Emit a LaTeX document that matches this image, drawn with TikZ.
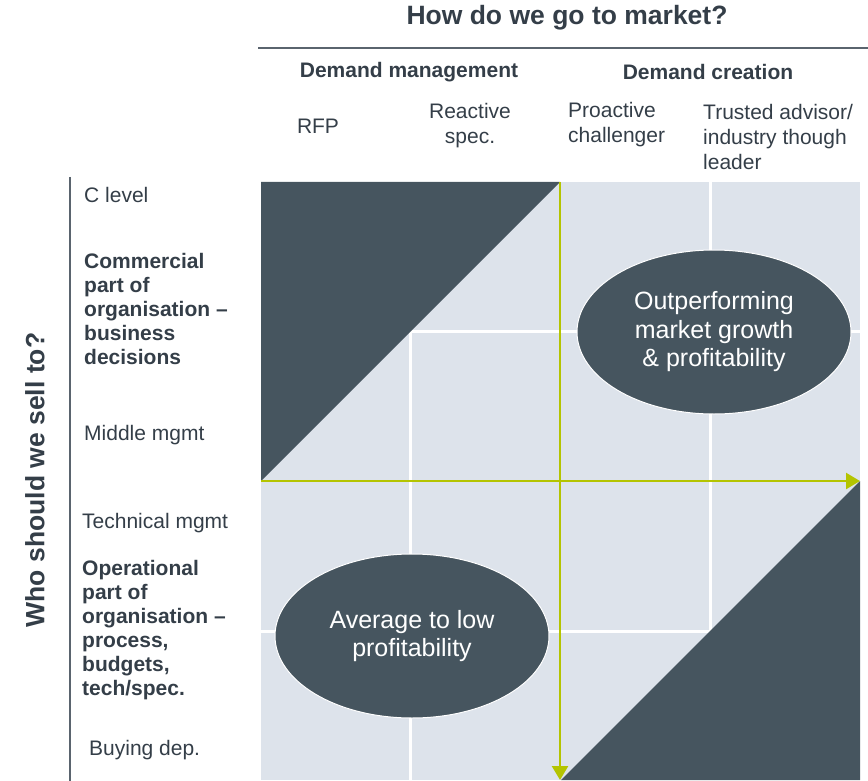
\documentclass[tikz,border=0pt]{standalone}
\usepackage{fontspec}
\setmainfont{Liberation Sans}
\usepackage{tikz}
\usetikzlibrary{arrows.meta,shapes.geometric}
\definecolor{slate}{RGB}{70,85,95}
\definecolor{paleblue}{RGB}{221,227,235}
\definecolor{lime}{RGB}{180,196,0}
\definecolor{inkgray}{RGB}{52,62,72}
\definecolor{rulegray}{RGB}{90,100,110}

\begin{document}
\begin{tikzpicture}[x=1pt, y=-1pt,
	lbl/.style={inkgray, inner sep=0pt, align=left, font=\fontsize{21}{24}\selectfont},
	boldlbl/.style={lbl, font=\fontsize{21}{24}\selectfont\bfseries},
	head/.style={inkgray, inner sep=0pt, font=\fontsize{26.5}{30}\selectfont\bfseries},
	axis/.style={lime, line width=2.5pt, -{Triangle[length=14pt, width=16pt]}},
	blob/.style={ellipse, fill=slate, draw=white, line width=1pt, inner sep=0pt,
		minimum width=274pt, minimum height=164pt, text=white, align=center,
		font=\fontsize{25}{28.5}\selectfont}]

	\useasboundingbox (0,0) rectangle (868,781);

	% headings and rules
	\node[head] (market) at (567,18) {How do we go to market?};
	\draw[rulegray, line width=1.5pt] (258,48) -- (868,48);
	\node[head, rotate=90] (sellto) at (35,480) {Who should we sell to?};
	\draw[rulegray, line width=1.5pt] (70,177) -- (70,781);

	% column groups
	\node[boldlbl] (mgmt) at (409,72) {Demand management};
	\node[boldlbl] (creation) at (708,72) {Demand creation};
	\node[lbl] (rfp) at (318,126) {RFP};
	\node[lbl, align=center, font=\fontsize{21}{25}\selectfont] (reactive) at (470,126) {Reactive\\spec.};
	\node[lbl, anchor=west, font=\fontsize{21}{25}\selectfont] (proactive) at (568,125) {Proactive\\challenger};
	\node[lbl, anchor=west, font=\fontsize{21}{25}\selectfont] (trusted) at (703,137) {Trusted advisor/\\industry though\\leader};

	% row labels
	\node[lbl, anchor=west] (clevel) at (84,195) {C level};
	\node[boldlbl, anchor=west] (commercial) at (84,309) {Commercial\\part of\\organisation --\\business\\decisions};
	\node[lbl, anchor=west] (middle) at (84,435) {Middle mgmt};
	\node[lbl, anchor=west] (technical) at (82,523) {Technical mgmt};
	\node[boldlbl, anchor=west] (operational) at (82,630) {Operational\\part of\\organisation --\\process,\\budgets,\\tech/spec.};
	\node[lbl, anchor=west] (buying) at (89,750) {Buying dep.};

	% matrix
	\fill[paleblue] (261,182) rectangle (860,780);
	\foreach \gx in {410,710}
		\draw[white, line width=3pt] (\gx,182) -- (\gx,780);
	\foreach \gy in {331,631}
		\draw[white, line width=3pt] (261,\gy) -- (860,\gy);
	\fill[slate] (261,182) -- (560,182) -- (261,481) -- cycle;
	\fill[slate] (860,481) -- (860,780) -- (561,780) -- cycle;

	% axes
	\coordinate (top) at (560,182);
	\coordinate (bottom) at (560,780);
	\coordinate (left) at (261,481);
	\coordinate (right) at (860,481);
	\draw[axis] (top) -- (bottom);
	\draw[axis] (left) -- (right);

	\node[blob] (high) at (714,332) {Outperforming\\market growth\\\& profitability};
	\node[blob] (low) at (412,636) {Average to low\\profitability};
\end{tikzpicture}
\end{document}
